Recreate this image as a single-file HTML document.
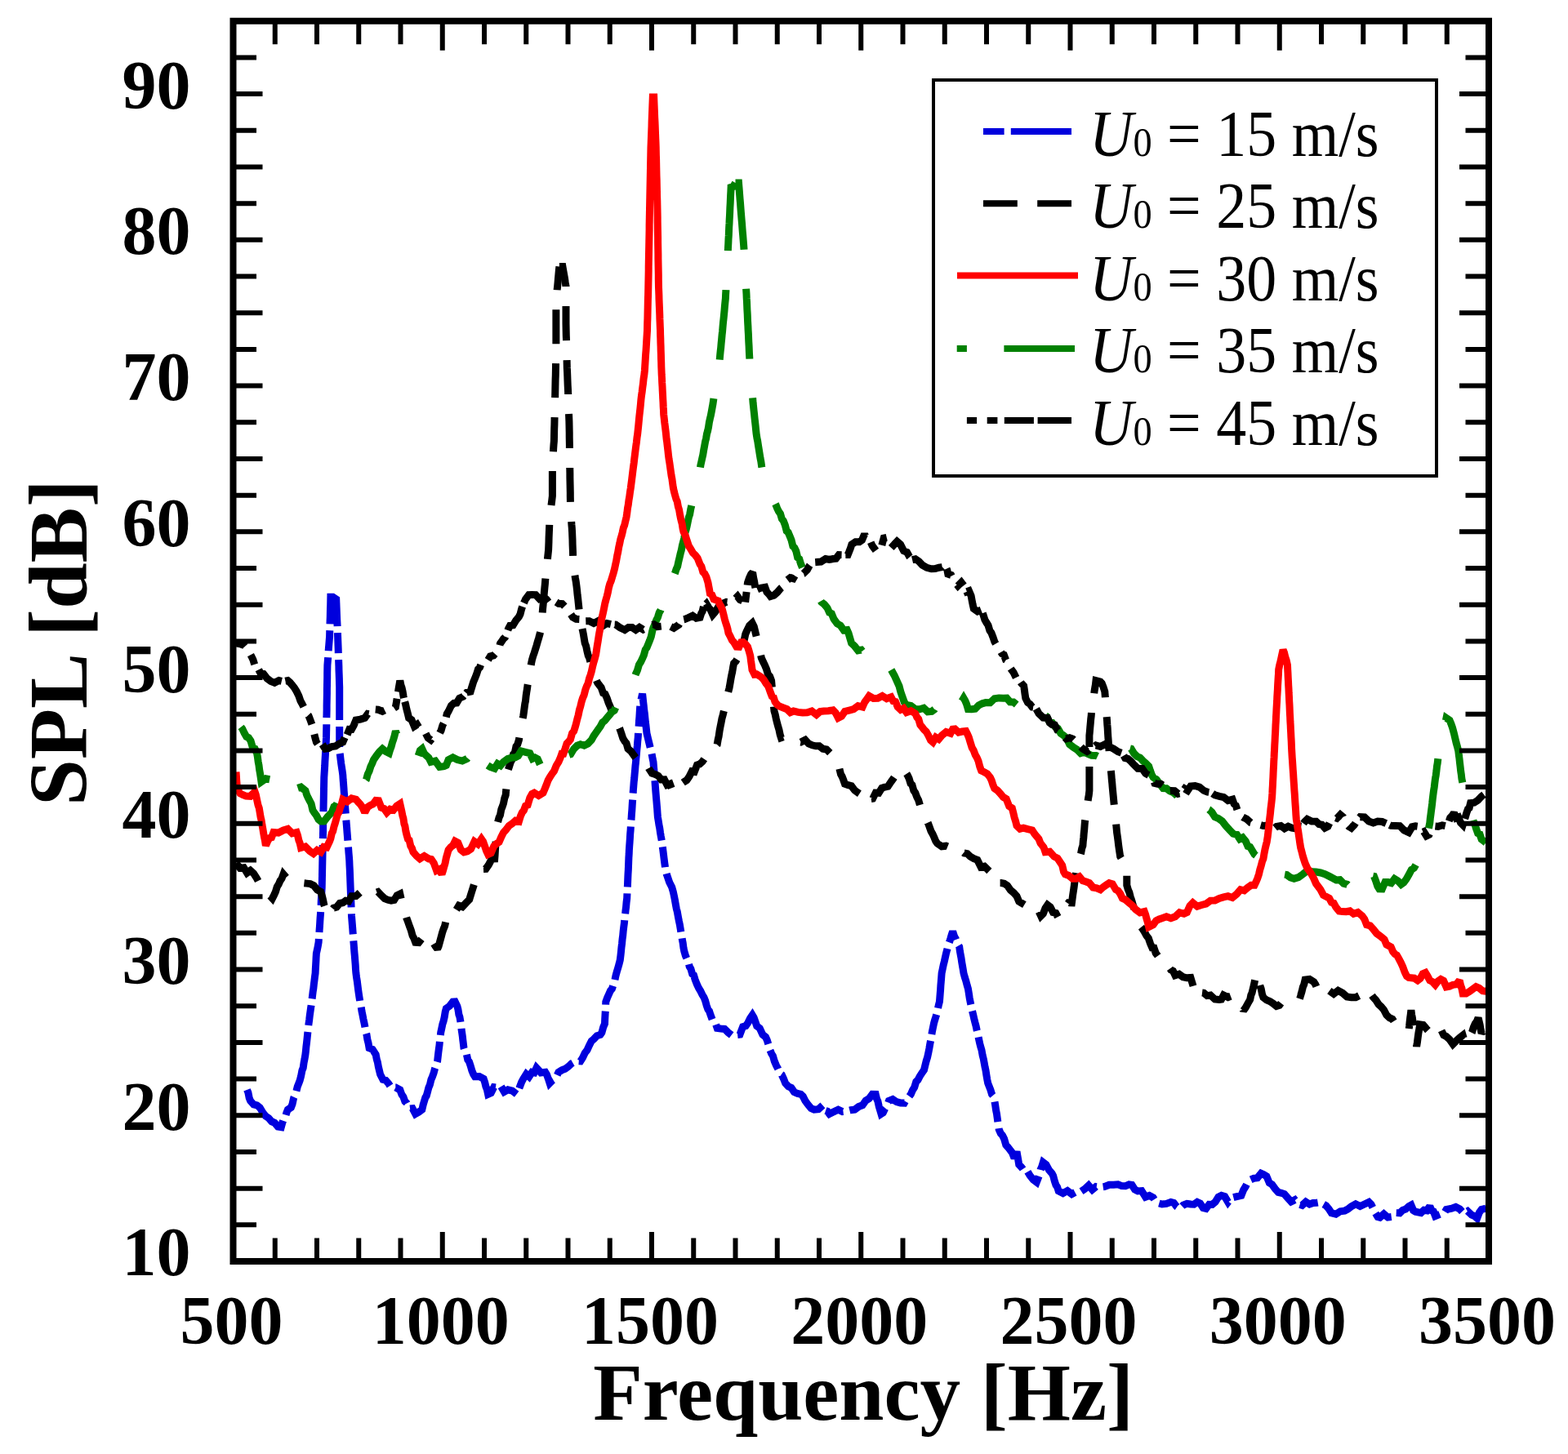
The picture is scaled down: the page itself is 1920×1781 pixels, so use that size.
<!DOCTYPE html>
<html><head><meta charset="utf-8"><title>SPL vs Frequency</title>
<style>html,body{margin:0;padding:0;background:#fff;}body{width:1920px;height:1781px;overflow:hidden;}svg{display:block;}</style>
</head><body>
<svg width="1920" height="1781" viewBox="0 0 1920 1781">
<rect width="100%" height="100%" fill="#fff"/>
<defs><clipPath id="c"><rect x="285.5" y="25.75" width="1537.5" height="1519.25"/></clipPath></defs>
<g clip-path="url(#c)" fill="none" stroke-width="9" stroke-linejoin="miter" stroke-miterlimit="2" stroke-linecap="butt">
<path d="M302.5 1334.9 L303.9 1338.3 L305.2 1344.9 L306.6 1348.4 L310.6 1352.9 L314.6 1353.8 L318.2 1356.7 L321.8 1362.7 L325.4 1367.2 L329.0 1369.6 L332.6 1373.7 L336.2 1375.3 L340.3 1380.0 L344.3 1380.7 L345.9 1374.9 L347.5 1370.4 L349.1 1369.0 L350.8 1363.2 L352.4 1359.2 L356.4 1356.5 L358.0 1352.4 L359.6 1345.0 L361.1 1341.5 L362.7 1337.4 L364.3 1330.9 L365.9 1326.8 L367.2 1323.4 L368.5 1318.5 L369.9 1311.3 L371.2 1308.0 L372.1 1301.7 L373.0 1297.2 L373.9 1291.8 L374.4 1287.6 L374.9 1282.2 L375.5 1277.3 L376.0 1272.8 L376.5 1267.7 L377.0 1263.2 L377.5 1258.7 L378.0 1254.0 L378.7 1249.1 L379.3 1243.8 L380.0 1238.8 L380.7 1233.9 L381.4 1229.3 L382.0 1224.4 L382.6 1219.5 L383.2 1214.5 L383.8 1211.0 L384.3 1206.0 L384.9 1201.5 L385.5 1196.3 L386.1 1192.1 L386.3 1187.5 L386.6 1182.6 L386.9 1177.3 L387.1 1172.6 L387.4 1167.8 L388.3 1163.8 L389.2 1159.3 L390.1 1154.3 L390.4 1149.6 L390.8 1144.2 L391.1 1139.4 L391.5 1134.2 L391.8 1128.9 L392.1 1124.1 L392.5 1119.2 L392.8 1113.9 L393.1 1108.7 L393.3 1103.1 L393.6 1097.8 L393.9 1092.1 L394.2 1087.0 L394.3 1081.9 L394.4 1077.0 L394.5 1072.0 L394.6 1066.9 L394.7 1062.0 L394.8 1057.1 L394.9 1052.1 L395.0 1047.0 L395.1 1042.0 L395.2 1037.0 L395.3 1032.1 L395.4 1027.1 L395.5 1022.1 L395.6 1017.1 L395.6 1012.0 L395.7 1007.0 L395.8 1002.2 L395.9 997.2 L396.0 992.2 L396.1 987.1 L396.2 982.1 L396.3 977.2 L396.4 972.3 L396.5 967.2 L396.6 962.2 L396.7 957.3 L396.8 952.2 L397.1 947.2 L397.4 942.5 L397.7 937.9 L397.9 932.8 L398.2 927.9 L398.5 923.0 L398.7 918.3 L399.0 913.7 L399.3 908.3 L399.5 903.7 L399.6 898.8 L399.7 893.9 L399.8 888.9 L399.8 884.0 L399.9 879.0 L400.0 874.1 L400.1 869.1 L400.1 864.2 L400.2 859.2 L400.3 854.3 L400.4 849.4 L400.4 844.4 L400.5 839.5 L400.6 834.5 L400.7 829.6 L400.7 824.6 L400.8 819.7 L400.9 814.8 L401.3 809.9 L401.7 804.8 L402.0 799.7 L402.4 794.4 L402.8 789.5 L403.2 784.5 L403.6 779.7 L403.7 774.9 L403.9 770.1 L404.0 765.3 L404.1 760.4 L404.3 755.6 L404.4 750.5 L404.5 745.9 L404.7 741.0 L404.8 735.9 L404.9 731.2 L407.6 731.2 L411.7 733.9 L411.9 738.8 L412.1 743.9 L412.3 749.4 L412.5 754.3 L412.7 759.3 L413.0 764.7 L413.2 769.7 L413.4 774.7 L413.6 779.8 L413.8 785.1 L414.0 790.3 L414.2 795.3 L414.3 800.5 L414.5 805.8 L414.7 810.8 L414.9 815.9 L415.0 821.1 L415.2 826.1 L415.4 831.4 L415.5 836.5 L415.7 841.7 L415.7 846.6 L415.7 851.5 L415.7 856.4 L415.7 861.2 L415.7 866.1 L415.7 871.0 L415.7 875.9 L415.7 880.8 L415.7 885.7 L415.7 890.6 L415.7 895.4 L415.7 900.3 L415.7 905.2 L415.7 910.1 L415.7 915.0 L415.7 919.9 L416.4 924.4 L417.1 930.4 L417.7 935.1 L418.4 939.7 L419.1 944.2 L419.8 949.5 L420.1 954.5 L420.5 959.2 L420.9 964.3 L421.2 969.0 L421.6 974.1 L422.0 978.6 L422.3 983.7 L422.7 989.1 L423.1 993.9 L423.4 998.4 L423.8 1003.4 L424.2 1008.8 L424.6 1013.5 L425.0 1019.1 L425.4 1024.1 L425.8 1028.9 L426.2 1033.9 L426.6 1038.9 L427.0 1044.7 L427.4 1049.1 L427.8 1054.6 L428.0 1059.9 L428.3 1065.2 L428.5 1070.2 L428.7 1075.2 L428.9 1080.7 L429.1 1085.9 L429.3 1091.0 L429.5 1096.1 L429.7 1101.2 L429.9 1106.4 L430.1 1111.5 L430.3 1116.9 L430.5 1122.0 L430.9 1126.9 L431.3 1131.8 L431.7 1136.7 L432.1 1142.1 L432.5 1146.8 L432.8 1152.0 L433.2 1156.9 L433.6 1162.3 L434.0 1167.4 L434.4 1171.7 L434.8 1176.8 L435.2 1181.9 L435.5 1187.4 L435.9 1192.1 L436.6 1197.4 L437.3 1201.7 L437.9 1206.5 L438.6 1212.1 L439.3 1217.2 L440.0 1221.7 L441.0 1227.9 L442.0 1232.2 L443.0 1238.6 L444.0 1243.3 L444.9 1248.1 L445.8 1252.2 L446.7 1256.7 L447.8 1263.1 L448.9 1267.0 L449.9 1273.4 L451.0 1277.5 L452.1 1283.7 L456.1 1285.4 L460.2 1291.8 L461.3 1297.6 L462.3 1300.8 L463.4 1306.9 L464.5 1311.4 L465.6 1316.0 L468.9 1322.4 L472.3 1323.2 L475.7 1327.1 L479.0 1332.2 L484.4 1332.1 L489.8 1334.9 L491.9 1340.7 L493.9 1343.5 L495.9 1349.2 L497.9 1351.1 L501.5 1358.1 L505.1 1357.7 L508.7 1364.5 L512.7 1362.2 L516.8 1359.2 L518.1 1353.5 L519.5 1348.8 L520.8 1344.4 L522.2 1342.3 L523.5 1337.6 L524.9 1332.2 L526.4 1328.7 L527.9 1322.4 L529.5 1318.7 L531.0 1314.7 L532.6 1308.7 L534.1 1304.7 L535.6 1299.9 L536.2 1294.5 L536.8 1289.4 L537.4 1284.6 L538.0 1280.3 L538.5 1274.9 L539.1 1270.3 L539.7 1264.8 L540.8 1259.8 L541.9 1254.4 L543.1 1250.7 L544.2 1245.8 L545.3 1239.0 L546.4 1235.2 L550.5 1232.3 L554.5 1227.1 L557.2 1226.9 L559.9 1232.5 L560.9 1236.4 L561.9 1242.8 L562.9 1245.6 L563.9 1251.4 L564.5 1255.6 L565.1 1261.2 L565.7 1265.1 L566.3 1269.3 L566.8 1274.0 L567.4 1278.7 L568.0 1283.7 L569.6 1288.9 L571.2 1290.9 L572.8 1298.1 L574.5 1300.5 L576.1 1305.3 L577.9 1311.6 L579.7 1315.8 L581.5 1318.7 L586.9 1318.6 L592.2 1321.4 L593.6 1325.4 L594.9 1330.8 L596.3 1334.4 L597.6 1340.3 L601.2 1338.7 L604.8 1331.7 L608.4 1332.2 L612.9 1329.7 L617.4 1337.4 L621.9 1334.9 L627.3 1336.2 L632.7 1340.3 L634.7 1336.0 L636.7 1330.7 L638.7 1325.4 L640.8 1321.4 L644.4 1315.7 L647.9 1318.9 L651.5 1313.3 L654.2 1313.9 L656.9 1308.0 L662.3 1313.9 L667.7 1313.3 L669.5 1316.3 L671.3 1321.2 L673.1 1326.8 L676.7 1323.1 L680.3 1321.0 L683.9 1313.3 L687.9 1310.9 L692.0 1309.3 L696.0 1306.4 L700.0 1302.6 L705.4 1299.5 L710.8 1299.9 L713.5 1295.6 L716.2 1289.8 L718.9 1286.4 L721.6 1280.5 L724.3 1275.1 L727.0 1272.9 L731.0 1268.7 L735.1 1267.5 L736.9 1264.9 L738.7 1258.3 L740.5 1254.0 L740.7 1248.7 L741.0 1243.3 L741.3 1238.1 L741.6 1232.4 L741.8 1227.1 L743.7 1222.0 L745.6 1217.7 L747.5 1213.4 L749.4 1211.3 L751.3 1205.5 L752.6 1201.7 L754.0 1195.1 L755.3 1190.3 L756.6 1185.9 L758.0 1181.0 L759.3 1175.9 L759.9 1171.0 L760.5 1165.5 L761.0 1160.2 L761.6 1155.5 L762.1 1150.2 L762.7 1145.8 L763.2 1140.2 L763.8 1135.2 L764.4 1130.8 L764.9 1125.3 L765.5 1120.9 L766.0 1115.5 L766.6 1110.9 L767.1 1105.1 L767.7 1100.4 L767.9 1095.5 L768.1 1090.7 L768.4 1085.4 L768.6 1080.9 L768.8 1075.6 L769.0 1070.9 L769.3 1066.1 L769.5 1061.1 L769.7 1055.9 L769.9 1050.8 L770.2 1046.1 L770.4 1041.1 L770.7 1036.6 L771.1 1031.2 L771.4 1026.8 L771.7 1021.3 L772.1 1017.0 L772.4 1011.5 L772.7 1006.8 L773.1 1002.4 L773.4 997.4 L773.8 992.6 L774.1 987.7 L774.4 982.7 L774.8 977.8 L775.1 972.5 L775.4 967.8 L775.8 963.0 L776.2 957.7 L776.7 953.3 L777.1 948.3 L777.6 943.0 L778.0 937.9 L778.5 933.8 L778.9 928.7 L779.4 923.5 L779.8 918.6 L780.3 913.9 L780.7 908.6 L781.2 903.7 L781.5 898.6 L781.8 893.5 L782.2 888.4 L782.5 883.1 L782.9 878.5 L783.2 873.3 L783.5 868.4 L783.9 863.3 L784.8 857.9 L785.7 854.0 L786.6 849.8 L787.1 854.2 L787.6 859.1 L788.2 864.1 L788.7 869.6 L789.3 873.9 L789.8 878.8 L790.3 883.9 L790.9 888.3 L791.4 892.9 L792.0 898.3 L793.3 903.8 L794.6 909.1 L796.0 914.9 L797.3 919.9 L798.2 924.2 L799.1 929.2 L800.0 933.3 L800.4 938.3 L800.8 942.7 L801.2 947.8 L801.6 952.6 L802.0 957.2 L802.3 962.1 L802.7 967.1 L803.1 972.2 L803.5 977.0 L803.9 981.3 L804.3 986.4 L804.7 990.7 L805.0 995.5 L805.4 1000.7 L806.2 1005.4 L807.0 1010.6 L807.7 1014.0 L808.5 1019.7 L809.3 1024.5 L810.0 1028.1 L810.8 1033.1 L811.4 1037.9 L812.0 1042.8 L812.5 1046.7 L813.1 1051.8 L813.7 1056.5 L814.3 1060.9 L814.9 1065.4 L816.4 1071.1 L818.0 1075.7 L819.6 1080.5 L821.1 1083.6 L822.7 1086.7 L824.3 1092.3 L825.3 1096.9 L826.3 1101.9 L827.3 1107.6 L828.3 1113.1 L829.3 1116.7 L830.4 1123.0 L831.4 1128.2 L832.4 1132.8 L833.1 1137.1 L833.9 1142.0 L834.7 1146.1 L835.5 1151.6 L836.2 1155.1 L837.0 1161.3 L837.8 1165.1 L839.4 1170.6 L841.0 1174.2 L842.6 1177.2 L844.2 1183.9 L845.9 1186.7 L847.7 1193.0 L849.4 1194.2 L851.2 1200.1 L853.4 1205.8 L855.6 1210.4 L857.7 1213.8 L859.9 1218.3 L862.0 1221.7 L863.6 1225.8 L865.3 1231.9 L866.9 1236.4 L868.5 1238.5 L870.1 1243.3 L872.1 1248.7 L874.2 1251.0 L876.2 1253.8 L878.2 1259.4 L882.7 1260.0 L887.2 1260.4 L891.7 1264.8 L897.1 1269.0 L902.5 1267.5 L906.0 1267.1 L909.6 1257.7 L913.2 1256.7 L915.9 1252.8 L918.6 1247.3 L921.3 1243.3 L923.1 1246.3 L924.9 1251.5 L926.7 1256.7 L930.3 1259.6 L933.9 1267.4 L937.5 1270.2 L939.3 1274.0 L941.1 1280.0 L942.9 1286.4 L944.7 1290.6 L946.5 1293.5 L948.3 1299.9 L950.5 1305.0 L952.8 1309.3 L955.0 1314.9 L957.3 1316.5 L959.5 1321.3 L961.7 1326.8 L965.3 1330.7 L968.9 1332.4 L972.5 1337.6 L976.6 1339.5 L980.6 1340.3 L983.3 1342.9 L986.0 1348.4 L989.6 1353.3 L993.2 1357.6 L996.8 1359.2 L1002.2 1358.6 L1007.6 1353.8 L1010.3 1360.3 L1013.0 1361.2 L1015.6 1364.5 L1021.0 1361.8 L1026.4 1359.2 L1031.5 1361.6 L1036.5 1361.0 L1041.6 1359.7 L1046.6 1359.2 L1051.4 1355.6 L1056.1 1353.8 L1060.1 1348.2 L1064.2 1345.7 L1068.2 1340.2 L1072.2 1340.3 L1073.6 1346.0 L1074.9 1348.9 L1076.3 1355.5 L1077.6 1359.8 L1079.0 1364.5 L1081.3 1363.0 L1083.7 1357.8 L1086.1 1354.9 L1088.4 1348.4 L1093.1 1346.5 L1097.8 1349.7 L1102.6 1350.9 L1107.3 1351.1 L1110.0 1346.3 L1112.7 1343.9 L1115.4 1340.3 L1117.5 1335.3 L1119.7 1331.8 L1121.8 1325.0 L1124.0 1322.8 L1126.1 1318.7 L1128.8 1314.4 L1131.5 1310.6 L1132.9 1304.8 L1134.2 1299.6 L1135.6 1295.2 L1136.9 1289.1 L1137.8 1284.5 L1138.7 1279.2 L1139.6 1274.5 L1140.5 1269.1 L1141.4 1263.8 L1142.3 1259.4 L1143.5 1253.6 L1144.6 1249.6 L1145.8 1245.8 L1146.9 1241.9 L1148.1 1237.2 L1149.2 1231.7 L1150.4 1227.1 L1150.8 1222.5 L1151.2 1217.1 L1151.6 1212.4 L1151.9 1207.0 L1152.3 1202.3 L1152.7 1197.5 L1153.1 1192.1 L1154.2 1186.8 L1155.3 1181.6 L1156.3 1177.8 L1157.4 1172.7 L1158.5 1167.8 L1159.8 1162.9 L1161.2 1157.3 L1162.5 1154.0 L1163.9 1149.6 L1165.2 1145.1 L1166.6 1140.9 L1168.6 1147.1 L1170.6 1150.6 L1172.6 1156.0 L1174.7 1159.7 L1175.4 1165.0 L1176.2 1169.4 L1177.0 1173.6 L1177.7 1178.6 L1178.5 1183.1 L1179.3 1187.7 L1180.0 1192.1 L1181.4 1197.2 L1182.7 1201.2 L1184.1 1206.6 L1185.4 1210.9 L1186.3 1216.5 L1187.2 1222.5 L1188.1 1227.1 L1189.3 1232.8 L1190.4 1237.9 L1191.6 1242.7 L1192.8 1247.9 L1193.9 1252.4 L1195.1 1256.8 L1196.2 1262.1 L1197.4 1266.6 L1198.5 1272.6 L1199.7 1278.0 L1200.8 1282.3 L1202.0 1286.3 L1203.2 1293.0 L1204.3 1297.2 L1205.2 1302.1 L1206.1 1307.0 L1207.0 1311.1 L1207.9 1317.0 L1208.8 1322.3 L1209.7 1326.8 L1211.3 1330.8 L1212.9 1334.9 L1214.5 1340.3 L1216.2 1342.3 L1217.8 1348.4 L1218.7 1353.8 L1219.6 1359.9 L1220.5 1364.5 L1221.2 1369.5 L1221.8 1373.8 L1222.5 1379.0 L1223.2 1383.4 L1225.3 1388.2 L1227.5 1390.7 L1229.6 1395.0 L1231.8 1402.5 L1234.0 1405.0 L1236.6 1408.2 L1239.3 1411.7 L1242.0 1418.5 L1243.5 1415.6 L1245.0 1410.4 L1245.9 1415.8 L1246.8 1420.9 L1247.7 1426.5 L1251.1 1430.0 L1254.4 1434.9 L1257.8 1434.3 L1261.2 1440.0 L1265.2 1445.1 L1269.3 1448.1 L1270.9 1444.0 L1272.5 1439.4 L1274.1 1432.8 L1275.7 1429.1 L1277.3 1423.8 L1280.9 1426.6 L1284.5 1433.2 L1288.1 1437.3 L1289.7 1440.4 L1291.4 1447.0 L1293.0 1451.6 L1294.6 1453.9 L1296.2 1458.9 L1301.6 1461.6 L1307.0 1458.6 L1312.4 1462.7 L1317.8 1459.8 L1323.2 1459.7 L1328.5 1456.2 L1333.0 1452.0 L1337.5 1457.2 L1342.0 1453.5 L1347.4 1454.3 L1352.8 1453.5 L1358.2 1451.3 L1363.6 1451.2 L1369.0 1450.8 L1373.5 1452.6 L1378.0 1452.8 L1382.5 1450.8 L1386.0 1451.3 L1389.6 1457.1 L1393.2 1458.9 L1397.9 1458.6 L1402.7 1466.2 L1407.4 1464.5 L1412.1 1467.0 L1415.7 1472.6 L1419.3 1474.0 L1422.9 1475.0 L1428.3 1474.4 L1433.7 1472.4 L1437.3 1473.4 L1440.8 1477.9 L1444.4 1480.4 L1448.9 1476.1 L1453.4 1474.3 L1457.9 1475.0 L1462.0 1475.2 L1466.0 1472.4 L1469.6 1474.1 L1473.2 1479.5 L1476.8 1480.4 L1480.6 1475.4 L1484.3 1475.5 L1488.1 1472.3 L1491.9 1466.1 L1495.6 1464.3 L1499.7 1465.6 L1503.7 1472.4 L1506.4 1468.9 L1509.1 1467.0 L1514.5 1465.6 L1519.9 1464.3 L1522.6 1457.5 L1525.3 1453.2 L1528.0 1447.8 L1530.7 1445.4 L1535.2 1443.4 L1539.7 1442.7 L1544.2 1437.3 L1547.5 1438.7 L1550.9 1440.8 L1554.3 1448.9 L1557.6 1450.8 L1561.4 1456.2 L1565.2 1460.5 L1569.0 1461.3 L1572.7 1462.6 L1576.5 1467.0 L1581.0 1472.0 L1585.5 1469.7 L1590.0 1475.0 L1594.5 1476.4 L1599.0 1472.2 L1603.5 1475.0 L1607.9 1473.4 L1612.4 1473.2 L1616.9 1472.4 L1620.3 1474.9 L1623.7 1476.8 L1627.0 1480.6 L1630.4 1485.8 L1635.8 1487.2 L1641.2 1483.8 L1646.6 1483.1 L1650.6 1481.0 L1654.7 1477.7 L1660.0 1474.8 L1665.4 1477.5 L1670.8 1475.0 L1676.2 1472.4 L1678.9 1475.1 L1681.6 1480.5 L1684.3 1486.2 L1687.0 1490.5 L1689.7 1491.2 L1694.5 1487.0 L1699.4 1491.1 L1704.2 1490.5 L1709.1 1485.6 L1714.0 1485.8 L1717.6 1482.3 L1721.3 1481.0 L1725.0 1477.7 L1727.9 1476.1 L1730.6 1482.6 L1733.2 1484.2 L1740.0 1485.6 L1743.6 1482.2 L1747.2 1482.8 L1750.8 1477.5 L1753.0 1482.8 L1755.3 1483.8 L1757.5 1489.6 L1764.2 1486.9 L1767.6 1487.1 L1771.0 1481.5 L1777.7 1480.2 L1782.6 1478.4 L1787.4 1480.9 L1792.3 1486.2 L1797.1 1483.5 L1802.0 1488.2 L1805.4 1489.4 L1808.7 1492.3 L1811.4 1485.2 L1814.1 1481.5 L1819.5 1480.2" stroke="#0000dd" stroke-dasharray="74 8 25 8"/>
<path d="M684.9 326.4 L684.4 331.1 L684.0 335.5 L683.5 340.9 L683.1 345.9 L682.7 350.2 L682.2 354.7 L681.8 360.1 L681.3 364.3 L680.9 369.5 L680.9 374.5 L680.9 379.5 L680.9 384.4 L680.9 389.4 L680.9 394.4 L680.9 399.4 L680.9 404.3 L680.9 409.3 L680.9 414.3 L680.9 419.3 L680.9 424.2 L680.9 429.2 L680.9 434.2 L680.7 439.1 L680.6 444.3 L680.5 449.3 L680.4 454.4 L680.3 459.5 L680.1 464.6 L680.0 469.6 L679.9 474.5 L679.8 479.7 L679.7 484.6 L679.6 489.7 L679.4 494.8 L679.3 499.8 L679.2 504.8 L679.1 509.8 L679.0 514.9 L678.9 520.0 L678.7 525.1 L678.6 530.0 L678.5 535.1 L678.4 540.2 L678.0 544.6 L677.7 549.3 L677.4 554.4 L677.0 559.0 L676.7 563.6 L676.4 568.5 L676.4 573.4 L676.4 578.3 L676.4 583.2 L676.4 588.1 L676.4 592.9 L676.4 597.8 L676.4 602.7 L676.4 607.6 L675.7 613.6 L675.0 618.9 L674.3 624.4 L673.7 629.2 L673.0 634.6 L672.8 639.5 L672.7 644.2 L672.5 649.1 L672.3 653.9 L672.1 658.8 L672.0 663.7 L671.8 668.8 L671.6 673.6 L671.1 678.3 L670.5 683.9 L670.0 689.3 L669.4 694.0 L668.8 700.0 L668.3 704.6 L667.8 709.5 L667.4 715.0 L666.9 720.0 L666.4 725.3 L666.0 730.1 L665.5 735.9 L665.1 740.7 L664.6 745.5 L664.2 750.8 L663.7 756.3 L663.2 761.1 L662.8 766.5 L662.3 771.6 L661.0 776.8 L659.6 781.8 L658.3 786.0 L656.9 791.0 L655.6 795.1 L654.2 799.7 L652.9 803.3 L651.5 808.0 L650.6 812.3 L649.7 818.1 L648.8 822.8 L647.9 829.1 L647.0 834.1 L646.1 839.0 L645.5 843.5 L644.8 847.8 L644.1 852.6 L643.5 858.6 L642.8 861.9 L642.1 867.1 L641.4 872.3 L640.8 876.7 L639.9 881.1 L639.0 886.0 L638.1 892.2 L637.2 896.0 L636.3 900.6 L635.4 906.4 L633.7 911.9 L632.0 914.1 L630.3 922.1 L628.6 923.8 L626.9 930.6 L625.3 933.5 L623.6 938.9 L621.9 944.1 L621.4 948.6 L621.0 954.2 L620.5 958.9 L620.1 964.2 L619.6 968.6 L619.2 973.8 L617.8 977.7 L616.5 984.2 L615.2 988.0 L613.8 991.5 L612.5 998.4 L611.1 1001.3 L609.8 1006.1 L608.4 1011.5 L608.1 1016.7 L607.7 1021.3 L607.4 1026.8 L607.1 1031.5 L606.7 1037.1 L606.4 1042.0 L606.1 1047.1 L605.7 1051.9 L602.1 1052.1 L598.5 1059.1 L594.9 1064.4 L591.3 1064.6 L587.8 1065.6 L584.2 1070.8 L582.6 1075.4 L581.0 1081.4 L579.4 1086.7 L577.9 1091.5 L576.3 1096.6 L574.7 1101.8 L570.5 1106.1 L566.2 1110.8 L561.9 1109.2 L557.7 1116.3 L553.4 1114.8 L549.1 1119.3 L547.6 1125.4 L546.1 1127.8 L544.6 1134.3 L543.1 1137.9 L541.6 1142.4 L540.1 1148.0 L538.6 1153.5 L537.1 1158.9 L535.6 1162.4 L533.0 1158.8 L530.3 1154.1 L527.6 1152.6 L524.9 1146.2 L520.8 1150.9 L516.8 1149.3 L512.7 1154.6 L508.7 1154.3 L506.9 1149.4 L505.1 1146.0 L503.3 1139.5 L501.5 1134.7 L499.7 1129.5 L497.9 1124.7 L496.6 1120.3 L495.2 1115.5 L493.9 1108.9 L492.5 1106.2 L491.2 1101.3 L489.8 1095.0 L486.2 1096.7 L482.6 1102.5 L479.0 1103.1 L475.0 1102.3 L471.0 1100.6 L466.9 1096.7 L462.9 1092.4 L457.5 1094.4 L452.1 1092.4 L446.7 1096.5 L441.3 1092.8 L435.9 1097.6 L430.5 1097.7 L426.9 1103.9 L423.3 1103.2 L419.8 1105.8 L416.0 1106.5 L412.2 1111.1 L408.4 1112.2 L404.7 1116.9 L400.9 1122.0 L399.5 1117.2 L398.2 1112.2 L396.8 1108.3 L395.5 1101.9 L394.2 1096.8 L392.8 1092.4 L388.5 1090.0 L384.2 1084.7 L379.9 1082.6 L375.6 1082.1 L371.2 1081.6 L366.4 1079.0 L361.5 1077.6 L356.7 1078.3 L351.8 1076.4 L347.0 1070.8 L345.1 1076.0 L343.1 1078.8 L341.2 1083.2 L339.3 1086.2 L337.4 1092.3 L335.4 1096.7 L333.5 1100.4 L330.4 1097.1 L327.2 1091.1 L324.1 1089.4 L320.9 1085.8 L317.8 1082.4 L314.6 1076.2 L310.6 1069.9 L306.6 1066.3 L302.5 1069.2 L298.5 1062.7 L293.8 1063.2 L289.0 1057.3" stroke="#000" stroke-dasharray="42 24" stroke-dashoffset="13"/>
<path d="M684.9 326.4 L688.9 326.4 L689.7 331.1 L690.6 336.1 L691.4 340.4 L692.2 345.9 L693.0 350.6 L693.0 355.7 L693.0 360.8 L693.0 365.9 L693.0 371.0 L693.0 376.1 L693.0 381.2 L693.0 386.3 L693.0 391.4 L693.0 396.5 L693.1 401.3 L693.2 406.3 L693.3 411.2 L693.5 416.0 L693.6 420.9 L693.7 425.8 L693.8 430.7 L694.0 435.8 L694.1 440.6 L694.2 445.6 L694.3 450.4 L694.6 455.8 L694.8 460.9 L695.0 466.6 L695.2 472.0 L695.5 477.4 L695.7 482.7 L695.8 487.4 L696.0 492.1 L696.2 496.8 L696.4 501.7 L696.5 506.2 L696.7 511.0 L696.9 515.7 L697.0 520.4 L697.1 525.4 L697.2 530.4 L697.2 535.3 L697.3 540.3 L697.4 545.1 L697.4 550.1 L697.5 555.0 L697.6 559.9 L697.6 564.9 L697.7 569.9 L697.8 574.9 L697.9 579.8 L697.9 584.7 L698.0 589.5 L698.1 594.0 L698.2 598.8 L698.3 603.7 L698.3 608.2 L698.4 613.0 L698.5 617.6 L698.6 622.4 L698.9 627.1 L699.3 632.6 L699.6 637.6 L699.9 642.3 L700.3 646.9 L700.6 652.1 L700.8 656.9 L701.0 661.7 L701.1 666.8 L701.3 671.7 L701.5 676.5 L701.6 681.4 L701.8 686.1 L702.0 691.2 L702.8 696.6 L703.6 702.6 L704.4 707.7 L705.2 712.1 L706.0 718.1 L706.6 723.3 L707.1 728.7 L707.7 733.3 L708.3 739.2 L708.8 743.9 L709.4 749.1 L710.2 754.3 L711.1 758.6 L711.9 764.5 L712.8 769.0 L713.7 773.4 L714.5 777.5 L715.4 782.9 L716.2 787.8 L717.6 791.2 L718.9 797.5 L720.3 803.1 L721.6 805.7 L723.0 811.4 L724.3 816.1 L725.7 820.5 L727.0 825.5 L729.3 830.8 L731.6 836.2 L733.9 839.3 L736.2 842.3 L738.6 849.0 L740.9 850.1 L743.2 855.2 L745.1 860.8 L747.0 865.1 L748.9 870.1 L750.9 875.1 L752.8 877.2 L754.7 883.4 L756.6 887.5 L758.7 892.1 L760.8 898.1 L762.8 904.3 L764.9 907.8 L767.0 910.3 L769.0 917.2 L772.7 920.4 L776.4 925.6 L780.0 930.2 L783.7 932.1 L787.3 936.7 L791.0 934.6 L794.6 941.4 L798.4 947.2 L802.2 948.4 L806.0 950.3 L809.7 955.0 L813.5 954.9 L816.9 961.5 L820.3 960.3 L823.6 969.2 L827.0 971.1 L830.6 968.3 L834.2 960.1 L837.8 957.6 L840.9 955.7 L844.1 951.0 L847.2 944.7 L850.3 945.3 L853.5 937.1 L856.6 936.0 L860.2 932.8 L863.8 927.5 L867.4 922.2 L871.0 920.3 L874.6 915.6 L878.2 911.8 L879.2 905.9 L880.1 902.1 L881.1 895.1 L882.1 889.7 L883.0 885.3 L884.0 880.0 L885.1 876.2 L886.3 871.1 L887.4 866.7 L888.5 861.4 L889.6 857.2 L890.7 851.7 L891.9 846.9 L893.0 842.8 L893.9 837.8 L894.9 831.8 L895.8 826.9 L896.7 823.1 L897.7 816.9 L898.6 812.5 L900.9 810.1 L903.1 806.6 L905.3 801.3 L906.8 796.3 L908.3 792.5 L909.8 788.2 L911.3 783.7 L912.8 776.7 L914.3 773.2 L917.7 766.2 L921.1 763.1 L923.3 767.6 L924.4 772.1 L925.6 777.1 L926.7 781.4 L927.8 785.5 L928.9 791.6 L930.1 797.3 L931.2 800.7 L932.3 805.8 L934.4 810.6 L936.4 814.6 L938.5 819.6 L940.5 826.1 L942.6 828.4 L944.6 833.8 L945.1 839.3 L945.6 844.4 L946.1 849.8 L946.6 855.4 L947.1 859.9 L947.5 865.9 L948.0 870.9 L949.2 875.1 L950.4 880.7 L951.6 885.7 L952.8 890.0 L954.0 894.0 L955.2 899.9 L956.4 903.7 L961.2 901.9 L966.1 906.8 L970.9 906.2 L975.8 908.2 L980.6 909.1 L986.0 906.4 L990.3 911.0 L994.6 912.8 L998.9 913.8 L1003.2 913.7 L1007.6 917.2 L1012.1 918.0 L1016.5 922.3 L1021.0 925.3 L1022.7 928.6 L1024.4 933.2 L1026.1 940.1 L1027.8 941.3 L1029.5 948.4 L1031.1 951.1 L1032.8 955.4 L1034.5 960.3 L1038.6 961.7 L1042.6 962.7 L1046.6 968.1 L1050.7 971.1 L1054.3 973.4 L1057.9 979.7 L1061.5 984.5 L1065.1 978.7 L1068.7 978.2 L1072.2 971.1 L1076.0 971.3 L1079.8 965.3 L1083.6 964.0 L1087.3 963.3 L1091.1 957.6 L1094.3 953.1 L1097.6 948.3 L1100.8 946.1 L1104.0 942.5 L1107.3 941.4 L1109.2 946.4 L1111.1 949.3 L1113.1 953.5 L1115.0 959.7 L1116.9 961.4 L1118.8 968.2 L1120.8 971.1 L1122.7 976.2 L1124.6 979.9 L1126.5 986.2 L1128.5 988.9 L1130.4 995.7 L1132.3 1000.5 L1134.2 1003.4 L1136.2 1007.7 L1138.1 1012.7 L1140.0 1018.1 L1141.9 1021.4 L1143.9 1025.7 L1145.8 1030.4 L1147.7 1033.1 L1153.1 1036.8 L1158.5 1036.2 L1163.9 1038.4 L1169.3 1035.8 L1173.0 1037.0 L1176.8 1042.0 L1180.6 1045.0 L1184.4 1045.6 L1188.1 1049.2 L1192.4 1051.7 L1196.8 1053.4 L1201.1 1062.1 L1205.4 1061.1 L1209.7 1065.4 L1212.9 1068.5 L1216.2 1074.6 L1219.4 1072.9 L1222.6 1081.6 L1225.9 1081.6 L1229.7 1082.2 L1233.5 1084.7 L1237.3 1090.2 L1241.2 1093.5 L1245.0 1097.7 L1247.7 1104.2 L1250.4 1105.8 L1254.9 1108.5 L1259.4 1107.7 L1263.9 1105.8 L1266.6 1109.5 L1269.3 1114.2 L1272.0 1116.4 L1274.6 1122.0 L1277.3 1119.3 L1280.0 1112.4 L1282.7 1108.5 L1286.1 1111.1 L1289.5 1117.5 L1292.8 1118.3 L1296.2 1124.7 L1298.9 1119.2 L1301.6 1118.0 L1304.3 1111.2 L1308.3 1105.7 L1312.4 1105.8 L1313.1 1100.6 L1313.7 1096.0 L1314.4 1091.3 L1315.1 1086.8 L1315.7 1081.9 L1316.4 1077.3 L1317.1 1072.4 L1317.8 1068.1 L1318.9 1062.8 L1320.1 1059.1 L1321.2 1053.8 L1322.4 1049.3 L1323.5 1045.7 L1324.7 1039.3 L1325.9 1035.8 L1326.3 1030.5 L1326.8 1026.2 L1327.2 1020.9 L1327.7 1016.3 L1328.1 1010.7 L1328.5 1006.1 L1329.2 1001.4 L1329.9 997.2 L1330.6 991.7 L1331.2 987.6 L1331.9 982.7 L1332.6 977.7 L1333.3 973.8 L1333.9 968.4 L1333.9 963.2 L1333.9 958.0 L1333.9 952.8 L1333.9 947.6 L1333.9 942.5 L1333.9 937.3 L1333.9 932.1 L1333.9 926.9 L1333.9 921.7 L1333.9 916.5 L1333.9 911.4 L1333.9 906.2 L1333.9 901.0 L1334.4 896.0 L1334.8 891.1 L1335.3 885.7 L1335.7 880.9 L1336.2 876.8 L1336.6 871.4 L1337.3 866.1 L1338.0 862.6 L1338.7 857.5 L1339.3 853.1 L1340.0 847.1 L1340.7 842.8 L1341.4 838.8 L1342.0 833.6 L1347.4 835.0 L1349.2 836.9 L1351.0 841.4 L1352.8 847.1 L1353.2 852.0 L1353.6 856.8 L1354.0 861.8 L1354.3 867.3 L1354.7 871.8 L1355.1 877.5 L1355.5 882.1 L1355.8 887.3 L1356.2 891.9 L1356.5 897.6 L1356.8 902.2 L1357.2 907.4 L1357.5 912.5 L1357.9 917.3 L1358.2 922.6 L1358.7 928.0 L1359.3 932.9 L1359.8 938.4 L1360.4 944.6 L1360.9 949.5 L1361.3 954.8 L1361.8 959.4 L1362.2 964.5 L1362.7 969.6 L1363.1 973.9 L1363.6 979.2 L1364.1 984.2 L1364.6 988.9 L1365.1 993.9 L1365.6 999.0 L1366.1 1004.1 L1366.6 1009.0 L1367.1 1014.2 L1367.6 1019.6 L1368.3 1024.4 L1369.0 1029.6 L1369.6 1034.9 L1370.3 1039.9 L1371.0 1044.6 L1371.7 1049.2 L1374.4 1053.8 L1377.1 1060.5 L1379.8 1062.7 L1379.8 1068.1 L1379.8 1073.5 L1379.8 1078.9 L1379.8 1084.3 L1381.3 1089.5 L1382.8 1092.9 L1384.2 1098.3 L1385.7 1102.8 L1387.2 1108.0 L1388.7 1112.8 L1390.2 1117.5 L1391.7 1123.5 L1393.2 1127.4 L1395.9 1133.7 L1398.6 1137.1 L1401.3 1141.4 L1404.0 1146.3 L1406.3 1149.2 L1408.5 1155.7 L1410.8 1160.9 L1413.0 1161.0 L1415.2 1167.5 L1417.5 1170.5 L1420.9 1175.3 L1424.2 1178.3 L1427.6 1177.3 L1431.0 1184.0 L1433.7 1187.9 L1436.4 1189.3 L1439.0 1194.8 L1443.8 1193.3 L1448.5 1196.7 L1453.2 1197.8 L1457.9 1197.5 L1459.5 1202.7 L1461.1 1208.0 L1462.8 1212.7 L1464.4 1216.8 L1466.0 1221.7 L1470.0 1215.8 L1474.1 1216.3 L1478.1 1219.6 L1482.2 1219.0 L1487.6 1224.0 L1493.0 1224.4 L1495.6 1224.1 L1498.3 1219.0 L1503.7 1221.5 L1509.1 1219.4 L1514.5 1224.4 L1517.2 1227.3 L1519.9 1231.3 L1522.6 1237.9 L1525.3 1234.1 L1528.0 1229.1 L1530.7 1224.4 L1531.8 1219.0 L1533.0 1216.3 L1534.1 1211.8 L1535.3 1206.9 L1536.5 1201.2 L1537.6 1196.2 L1538.8 1192.1 L1540.1 1196.2 L1541.5 1202.8 L1542.8 1207.4 L1544.2 1211.2 L1545.5 1217.9 L1546.9 1221.7 L1550.9 1224.9 L1554.9 1226.5 L1559.0 1229.2 L1563.0 1232.5 L1566.6 1231.3 L1570.2 1226.8 L1573.8 1224.4 L1579.2 1224.2 L1584.6 1221.7 L1588.6 1217.7 L1592.7 1219.0 L1594.0 1214.9 L1595.4 1208.9 L1596.7 1206.0 L1598.1 1200.1 L1603.5 1199.5 L1608.8 1202.8 L1610.9 1206.1 L1612.9 1211.1 L1614.9 1214.5 L1616.9 1219.0 L1622.3 1216.5 L1627.7 1213.6 L1633.1 1217.5 L1638.5 1213.3 L1643.9 1216.3 L1649.3 1220.9 L1654.7 1221.7 L1660.0 1221.7 L1665.4 1219.0 L1669.5 1217.0 L1673.5 1210.9 L1676.2 1214.2 L1678.9 1217.8 L1681.6 1221.7 L1684.8 1225.0 L1688.1 1230.2 L1691.3 1233.1 L1694.5 1237.0 L1697.8 1243.3 L1701.4 1246.7 L1705.0 1248.3 L1708.6 1254.0 L1714.0 1256.5 L1719.3 1259.4 L1725.0 1262.1 L1725.6 1257.2 L1726.1 1252.0 L1726.7 1246.8 L1727.3 1242.4 L1727.9 1237.3 L1728.6 1242.8 L1729.4 1246.7 L1730.1 1252.3 L1730.9 1257.3 L1731.6 1262.6 L1732.3 1267.2 L1733.1 1271.5 L1733.8 1276.3 L1734.6 1281.7 L1735.4 1276.9 L1736.2 1270.6 L1737.0 1264.8 L1737.8 1260.7 L1738.6 1254.8 L1742.7 1255.4 L1746.7 1260.2 L1749.4 1263.1 L1752.1 1268.2 L1756.8 1262.9 L1761.5 1260.2 L1764.7 1261.6 L1767.8 1268.0 L1771.0 1269.6 L1775.0 1273.2 L1779.1 1279.0 L1783.1 1275.0 L1787.2 1271.3 L1791.2 1268.2 L1793.2 1274.9 L1795.2 1279.0 L1797.9 1271.4 L1800.6 1268.2 L1802.5 1264.3 L1804.4 1258.1 L1806.3 1253.8 L1808.2 1251.4 L1810.1 1246.7 L1811.1 1251.1 L1812.1 1255.2 L1813.1 1261.0 L1814.1 1265.6 L1815.9 1263.3 L1817.7 1258.1 L1819.5 1253.4" stroke="#000" stroke-dasharray="42 24" stroke-dashoffset="13"/>
<path d="M900.5 224.0 L897.8 228.6 L895.1 229.4 L894.9 234.3 L894.6 239.4 L894.4 244.0 L894.2 248.9 L893.9 254.0 L893.7 259.1 L893.5 263.7 L893.2 268.7 L893.0 273.7 L892.7 278.4 L892.5 283.3 L892.3 288.5 L892.0 293.0 L891.8 298.2 L891.5 303.3 L891.3 308.2 L891.1 312.9 L890.8 317.9 L890.6 322.6 L890.3 327.5 L890.1 331.8 L889.8 337.0 L889.6 341.5 L889.4 346.4 L889.1 350.9 L888.9 355.8 L888.6 360.6 L888.4 365.5 L887.9 370.3 L887.4 375.5 L887.0 380.6 L886.5 385.8 L886.0 390.7 L885.5 395.2 L885.0 400.9 L884.6 405.9 L884.1 410.3 L883.6 415.9 L883.1 420.8 L882.7 425.8 L882.2 429.9 L881.7 435.0 L881.2 440.8 L880.8 445.3 L880.3 450.4 L879.5 455.1 L878.7 459.9 L877.9 464.7 L877.1 469.4 L876.3 475.1 L875.4 479.1 L874.6 483.7 L873.8 488.9 L873.0 494.6 L872.2 498.9 L871.3 503.9 L870.3 509.1 L869.4 512.7 L868.4 517.3 L867.5 523.4 L866.5 528.1 L865.5 531.6 L864.6 537.1 L863.6 541.0 L862.7 546.0 L861.7 551.3 L860.8 556.9 L859.8 561.2 L858.9 565.4 L857.9 569.8 L857.0 576.0 L856.0 580.0 L854.9 584.8 L853.7 590.7 L852.6 594.4 L851.5 599.3 L850.3 603.7 L849.2 610.1 L848.0 614.4 L846.9 618.7 L845.7 623.8 L844.6 630.1 L843.4 633.6 L842.3 638.8 L841.1 644.7 L840.0 649.2 L838.8 652.9 L837.7 659.6 L836.6 663.6 L835.4 668.3 L834.3 674.0 L833.1 678.4 L832.0 683.2 L830.8 688.2 L829.7 693.5 L828.1 697.1 L826.4 702.4 L824.8 706.3 L823.2 709.8 L821.6 715.0 L819.8 721.3 L818.0 724.7 L816.2 726.8 L814.4 731.1 L812.6 738.4 L810.8 742.0 L809.0 747.3 L807.2 750.4 L805.4 756.2 L803.6 759.8 L801.8 764.9 L800.0 768.9 L798.7 773.2 L797.3 779.7 L795.5 784.7 L793.7 789.2 L792.0 793.2 L790.2 795.8 L788.4 802.5 L786.6 806.7 L784.5 811.0 L782.5 814.1 L780.5 821.0 L778.5 825.5 L776.9 829.9 L775.2 835.9 L773.6 837.7 L772.0 841.8 L770.4 847.1 L766.6 852.7 L762.8 854.7 L759.1 859.3 L755.3 863.3 L752.3 870.1 L749.2 872.1 L746.2 875.8 L743.2 879.4 L740.5 882.8 L737.8 884.8 L735.1 889.9 L732.4 893.6 L729.7 897.5 L727.0 901.4 L724.3 906.4 L719.8 911.0 L715.3 913.2 L710.8 911.8 L706.8 913.2 L702.7 917.2 L698.7 923.8 L694.7 925.3 L690.6 924.1 L686.6 926.9 L682.5 932.1 L678.5 933.3 L674.9 935.8 L671.3 937.5 L667.7 942.8 L664.6 936.1 L661.4 936.7 L658.3 929.7 L655.1 928.0 L652.0 929.4 L648.8 922.6 L643.5 921.3 L638.1 919.9 L634.5 925.9 L630.9 927.9 L627.3 928.0 L621.9 929.5 L616.5 933.3 L612.9 937.6 L609.3 935.5 L605.7 941.4 L600.3 939.5 L594.9 936.0 L593.6 929.5 L592.2 926.2 L590.9 920.6 L589.5 914.5 L585.5 915.7 L581.5 919.9 L578.3 920.6 L575.2 925.5 L572.0 929.3 L566.0 932.1 L559.9 930.6 L554.5 927.8 L549.1 930.6 L546.4 937.5 L543.7 938.7 L538.3 939.4 L533.0 932.1 L527.6 933.3 L524.9 928.0 L522.2 925.7 L519.5 923.1 L516.8 917.2 L514.4 919.2 L512.1 925.8 L509.7 928.7 L507.3 932.0 L504.3 930.0 L501.3 926.0 L498.3 921.0 L495.2 914.5 L492.5 908.0 L489.8 905.9 L487.1 902.9 L484.4 895.6 L483.1 901.2 L481.7 905.9 L480.4 909.6 L479.0 914.8 L477.7 918.3 L476.4 922.6 L472.3 920.5 L468.3 917.2 L464.7 920.7 L461.1 925.4 L457.5 930.6 L455.7 935.2 L453.9 938.9 L452.1 944.6 L450.3 948.4 L448.5 954.9 L446.7 957.6 L442.7 958.3 L438.6 960.4 L434.6 962.9 L430.5 968.4 L426.0 973.7 L421.6 976.8 L417.1 976.5 L414.4 980.2 L411.7 986.3 L409.0 988.0 L406.3 995.1 L403.6 997.9 L400.9 1000.7 L396.8 1006.1 L392.8 1006.1 L390.1 1003.9 L387.4 998.8 L384.7 995.3 L382.9 992.3 L381.1 984.5 L379.3 981.1 L377.5 977.7 L375.7 973.9 L373.9 968.4 L368.5 964.0 L363.2 965.7 L357.8 964.9 L352.4 961.6 L349.0 959.2 L345.6 953.7 L342.3 952.0 L338.9 945.5 L334.9 951.1 L330.8 954.9 L325.4 953.8 L320.0 957.6 L319.3 952.8 L318.5 947.5 L317.7 943.1 L317.0 937.5 L316.2 933.4 L315.4 927.1 L314.6 922.6 L312.1 917.1 L309.5 916.1 L307.0 907.4 L304.4 903.5 L301.8 902.4 L299.3 898.1 L296.7 892.6 L294.2 889.4 L291.6 883.5 L289.0 880.8" stroke="#008000" stroke-dasharray="86 48"/>
<path d="M900.5 224.0 L904.5 224.0 L904.9 228.8 L905.3 233.7 L905.7 239.0 L906.1 244.2 L906.5 248.7 L906.9 254.2 L907.3 259.3 L907.7 264.2 L908.1 269.2 L908.5 273.5 L908.9 279.0 L909.3 284.2 L909.7 288.5 L910.1 293.7 L910.5 298.7 L910.9 303.9 L911.3 308.9 L911.6 314.0 L911.8 319.1 L912.1 324.4 L912.4 329.1 L912.6 334.2 L912.9 339.4 L913.2 344.5 L913.4 349.6 L913.7 355.2 L914.0 360.1 L914.2 365.2 L914.5 369.7 L914.7 374.8 L914.9 379.6 L915.2 384.6 L915.4 389.5 L915.6 394.6 L915.9 399.4 L916.1 404.2 L916.4 409.1 L916.6 414.1 L916.8 418.9 L917.1 424.0 L917.3 429.0 L917.5 433.7 L917.8 438.5 L918.0 443.6 L918.4 448.3 L918.8 453.5 L919.2 458.7 L919.6 463.8 L920.0 468.5 L920.5 473.8 L920.9 478.6 L921.3 483.5 L921.7 488.4 L922.1 493.5 L922.6 498.2 L923.1 503.1 L923.6 507.5 L924.1 512.6 L924.6 517.0 L925.1 521.5 L925.6 526.5 L926.1 531.2 L926.9 536.4 L927.7 540.2 L928.5 545.7 L929.3 550.6 L930.2 556.3 L931.0 561.2 L931.8 565.2 L932.6 570.9 L933.4 575.6 L934.2 580.0 L936.1 583.7 L938.1 589.1 L940.0 592.3 L941.9 599.7 L943.9 603.7 L945.8 609.3 L947.7 613.5 L949.7 617.6 L951.6 622.5 L953.5 626.4 L955.5 629.2 L957.4 635.7 L959.3 638.0 L961.3 643.2 L963.2 650.4 L965.1 652.0 L967.1 656.8 L969.0 661.5 L970.9 669.2 L972.9 671.0 L974.8 675.0 L976.7 682.9 L978.7 684.6 L980.6 690.8 L983.3 697.3 L986.0 701.1 L988.7 706.7 L991.4 709.6 L993.5 716.1 L995.7 718.6 L997.9 724.0 L1000.0 724.7 L1002.2 731.2 L1005.8 737.5 L1009.4 740.3 L1013.0 744.7 L1015.6 750.3 L1018.3 751.5 L1021.0 758.2 L1025.1 763.9 L1029.1 766.2 L1033.2 772.0 L1037.2 771.6 L1039.0 775.6 L1040.8 781.8 L1042.6 787.8 L1046.6 791.6 L1050.7 796.8 L1054.7 796.1 L1058.8 801.3 L1062.8 801.7 L1066.9 804.9 L1070.9 810.2 L1074.9 812.1 L1077.6 817.3 L1080.3 818.6 L1083.0 822.8 L1087.1 820.6 L1091.1 820.1 L1093.1 823.7 L1095.2 827.5 L1097.2 831.9 L1099.2 836.3 L1101.0 840.3 L1102.8 847.1 L1104.6 852.5 L1107.3 860.1 L1110.0 863.3 L1115.4 864.5 L1120.8 868.6 L1126.1 868.7 L1131.1 867.2 L1136.0 871.8 L1141.0 871.4 L1144.3 869.0 L1147.7 863.3 L1151.8 865.8 L1155.8 866.0 L1158.5 862.5 L1161.2 858.7 L1163.9 855.2 L1167.9 860.2 L1172.0 863.3 L1176.0 862.0 L1180.0 855.2 L1181.8 858.3 L1183.6 862.6 L1185.4 868.7 L1189.8 868.8 L1194.1 868.3 L1198.4 863.9 L1202.7 861.8 L1207.0 860.6 L1212.4 860.8 L1217.8 855.7 L1223.2 854.9 L1228.6 855.2 L1232.7 855.1 L1236.8 859.8 L1240.9 860.0 L1245.0 863.3 L1250.4 861.4 L1255.8 863.3 L1260.3 863.7 L1264.8 864.6 L1269.3 860.6 L1272.0 865.0 L1274.6 871.4 L1278.0 876.2 L1281.4 877.5 L1284.8 883.9 L1288.1 884.8 L1291.7 889.9 L1295.3 892.3 L1298.9 898.3 L1302.5 900.9 L1306.1 904.2 L1309.7 911.8 L1314.2 915.2 L1318.7 918.1 L1323.2 922.6 L1327.7 921.2 L1332.1 923.4 L1336.6 925.3 L1342.0 925.4 L1347.4 928.0 L1351.0 927.2 L1354.6 920.1 L1358.2 919.9 L1362.7 921.5 L1367.2 916.1 L1371.7 914.5 L1376.2 916.1 L1380.7 916.0 L1385.1 917.2 L1388.7 923.1 L1392.3 926.6 L1395.9 928.0 L1399.5 931.9 L1403.1 935.0 L1406.7 938.7 L1408.5 944.1 L1410.3 949.1 L1412.1 952.2 L1416.1 954.9 L1420.2 960.6 L1424.2 965.5 L1428.3 965.7 L1432.3 968.8 L1436.4 970.5 L1440.4 973.9 L1444.4 979.2 L1448.0 983.4 L1451.6 985.8 L1455.2 987.2 L1460.6 993.2 L1466.0 992.6 L1471.4 993.8 L1476.8 989.9 L1480.4 991.7 L1484.0 995.0 L1487.6 1000.7 L1492.1 1002.6 L1496.5 1005.7 L1501.0 1011.5 L1505.5 1016.5 L1510.0 1021.2 L1514.5 1022.3 L1518.1 1027.8 L1521.7 1026.0 L1525.3 1030.4 L1528.0 1036.5 L1530.7 1037.4 L1533.4 1042.0 L1536.1 1046.5 L1540.6 1049.9 L1545.1 1047.2 L1549.5 1051.9 L1553.6 1053.1 L1557.6 1060.0 L1562.1 1065.9 L1566.6 1065.7 L1571.1 1070.8 L1575.6 1071.6 L1580.1 1074.9 L1584.6 1076.2 L1590.0 1074.7 L1595.4 1070.8 L1600.8 1066.4 L1606.1 1067.8 L1611.5 1068.1 L1616.9 1069.0 L1622.3 1070.8 L1627.7 1073.4 L1633.1 1076.2 L1636.2 1077.9 L1640.7 1077.7 L1645.2 1082.1 L1649.7 1083.3 L1654.6 1088.3 L1659.6 1086.1 L1664.5 1088.7 L1666.8 1085.3 L1669.0 1079.4 L1671.3 1077.9 L1674.6 1071.8 L1678.0 1068.5 L1680.2 1073.0 L1682.5 1073.5 L1684.7 1079.2 L1686.8 1085.6 L1688.8 1088.7 L1692.4 1088.8 L1696.0 1080.5 L1699.6 1080.6 L1703.6 1081.7 L1707.6 1076.5 L1711.7 1079.0 L1715.7 1083.3 L1718.9 1081.0 L1722.0 1076.9 L1725.2 1071.2 L1728.3 1065.4 L1731.5 1063.2 L1734.6 1057.7 L1736.4 1052.8 L1738.2 1047.9 L1740.0 1041.5 L1742.2 1035.9 L1744.5 1033.7 L1746.7 1028.0 L1747.7 1023.9 L1748.7 1018.3 L1749.8 1012.9 L1750.8 1007.8 L1751.3 1002.5 L1751.9 998.2 L1752.5 993.2 L1753.1 988.8 L1753.7 984.0 L1754.2 979.0 L1754.8 974.1 L1755.5 968.7 L1756.2 964.4 L1756.8 959.3 L1757.5 953.7 L1758.2 949.7 L1758.9 944.4 L1759.5 938.7 L1760.2 934.8 L1760.9 928.7 L1761.5 924.3 L1762.6 919.0 L1763.7 915.1 L1764.8 909.9 L1765.9 905.0 L1766.9 900.0 L1768.0 895.2 L1769.0 889.6 L1770.0 884.2 L1771.0 879.5 L1775.0 882.2 L1776.8 886.5 L1778.6 891.5 L1780.4 898.3 L1781.8 904.3 L1783.1 909.8 L1784.5 914.7 L1785.8 920.0 L1786.4 925.2 L1787.0 929.5 L1787.5 934.3 L1788.1 939.2 L1788.7 944.7 L1789.3 948.5 L1789.9 953.9 L1790.9 958.8 L1792.0 963.0 L1793.1 969.1 L1794.2 973.0 L1795.2 978.2 L1797.0 983.0 L1798.8 988.6 L1800.6 994.3 L1802.3 999.5 L1804.0 1005.3 L1805.7 1009.0 L1807.4 1014.6 L1809.6 1020.7 L1811.9 1021.7 L1814.1 1028.0 L1819.5 1032.1" stroke="#008000" stroke-dasharray="86 48"/>
<path d="M289.0 787.8 L294.0 788.7 L298.9 790.4 L303.9 795.9 L305.9 800.2 L307.9 803.9 L309.9 808.2 L312.0 814.8 L315.5 817.7 L319.1 824.9 L322.7 825.5 L327.2 831.2 L331.7 834.6 L336.2 836.3 L341.6 833.5 L347.0 834.8 L352.4 833.6 L355.1 836.0 L357.8 839.2 L360.5 842.5 L363.2 847.0 L365.9 852.5 L367.9 858.5 L369.9 862.1 L371.9 866.1 L373.9 868.7 L376.0 874.6 L378.0 876.8 L380.0 882.0 L382.0 887.5 L383.4 893.2 L384.7 898.9 L386.1 904.6 L387.4 909.1 L391.0 914.4 L394.6 911.6 L398.2 917.2 L402.2 916.6 L406.3 914.5 L410.8 913.9 L415.3 910.9 L419.8 909.1 L422.5 902.9 L425.1 900.0 L427.8 893.4 L430.5 893.5 L433.2 888.6 L435.9 882.1 L441.3 881.1 L446.7 879.4 L450.3 874.4 L453.9 875.1 L457.5 868.7 L462.9 869.2 L468.3 871.3 L473.7 868.7 L479.0 869.7 L484.4 866.0 L485.2 861.4 L486.0 856.6 L486.7 852.3 L487.5 847.4 L488.3 842.3 L489.1 837.9 L489.8 833.6 L490.9 839.2 L492.0 842.3 L493.1 847.1 L494.1 853.3 L495.2 857.9 L496.6 862.7 L497.9 868.7 L499.3 874.0 L500.6 879.4 L504.0 881.7 L507.3 889.7 L510.7 887.4 L514.1 892.9 L517.5 895.7 L520.8 897.6 L524.2 904.0 L527.6 906.4 L531.2 902.1 L534.7 900.0 L538.3 898.3 L540.1 894.8 L541.9 888.6 L543.7 885.1 L545.5 881.9 L547.3 874.3 L549.1 871.4 L552.5 864.4 L555.9 861.4 L559.2 861.0 L562.6 855.2 L567.1 853.3 L571.6 848.0 L576.1 847.1 L577.9 841.1 L579.7 835.2 L581.5 830.9 L583.5 826.0 L585.5 819.6 L587.5 817.6 L589.5 812.1 L593.1 812.1 L596.7 809.9 L600.3 804.0 L604.4 802.9 L608.4 798.6 L610.4 796.7 L612.5 788.2 L614.5 785.5 L616.5 782.4 L618.5 780.6 L620.5 775.6 L622.6 769.9 L624.6 766.2 L628.2 765.8 L631.8 759.9 L635.4 755.5 L637.0 752.3 L638.6 746.1 L640.2 741.4 L641.8 738.0 L643.5 733.9 L647.5 728.7 L651.5 728.5 L656.0 728.6 L660.5 733.5 L665.0 731.2 L669.1 734.1 L673.1 739.3 L678.5 735.9 L683.9 739.3 L688.4 739.7 L692.9 744.2 L697.4 750.1 L701.4 756.1 L705.4 758.2 L710.8 758.5 L716.2 760.9 L721.6 760.7 L727.0 763.5 L732.4 760.7 L737.8 766.9 L743.2 763.5 L748.6 764.8 L754.0 765.1 L759.3 768.9 L765.0 771.6 L769.5 768.5 L774.0 768.5 L778.5 771.6 L783.0 768.4 L787.5 771.1 L792.0 768.9 L796.4 766.0 L800.9 764.8 L805.4 767.6 L809.9 767.1 L814.4 764.9 L818.9 766.2 L825.1 769.3 L831.2 765.3 L834.6 759.3 L838.0 758.6 L843.0 756.6 L848.1 754.1 L852.6 757.2 L857.1 756.4 L858.6 751.6 L860.1 749.0 L861.5 742.9 L864.9 739.5 L867.5 743.9 L870.2 747.1 L872.8 753.0 L876.1 749.2 L879.5 743.5 L882.9 743.0 L886.3 738.7 L889.6 737.3 L894.1 737.8 L898.6 735.1 L903.1 730.5 L906.1 734.6 L909.1 735.9 L912.1 742.9 L912.6 737.7 L913.2 732.8 L913.8 727.9 L914.3 723.1 L914.9 719.0 L915.5 713.7 L917.5 707.9 L919.6 703.3 L921.6 701.3 L922.6 707.5 L923.6 712.1 L924.6 718.3 L925.6 722.7 L931.2 720.3 L936.8 719.3 L939.0 725.2 L941.3 727.6 L943.5 730.5 L947.7 729.2 L951.9 725.5 L956.2 720.4 L960.4 717.1 L964.0 710.6 L967.7 707.7 L971.3 708.7 L975.0 702.5 L979.5 703.8 L984.0 702.4 L988.4 698.0 L991.3 692.6 L994.1 689.0 L999.7 688.6 L1005.3 688.1 L1010.9 684.5 L1015.5 685.5 L1020.0 684.5 L1023.6 684.2 L1027.2 679.5 L1032.7 679.7 L1038.2 679.5 L1039.7 675.9 L1041.3 671.8 L1042.9 666.9 L1047.6 663.7 L1052.3 663.8 L1055.5 661.5 L1058.6 654.3 L1061.8 661.7 L1064.9 661.3 L1068.1 668.5 L1072.8 674.9 L1077.5 674.8 L1079.1 670.9 L1080.6 664.8 L1082.2 659.1 L1086.1 658.2 L1090.1 663.8 L1094.3 667.6 L1098.4 663.3 L1102.6 666.9 L1106.6 674.8 L1110.5 676.4 L1113.6 682.0 L1116.8 685.8 L1121.0 684.8 L1125.2 687.6 L1129.4 692.1 L1134.9 695.4 L1140.4 696.8 L1145.1 696.5 L1149.8 695.2 L1153.7 694.6 L1157.7 690.5 L1158.7 695.8 L1159.8 698.2 L1160.8 703.1 L1164.7 704.5 L1168.7 712.5 L1172.9 717.6 L1177.1 713.3 L1181.3 718.8 L1183.9 724.8 L1186.5 723.8 L1189.1 729.8 L1190.2 735.7 L1191.2 740.9 L1192.3 745.5 L1197.0 749.0 L1201.7 747.1 L1203.8 752.5 L1205.9 759.1 L1208.0 762.8 L1210.0 765.9 L1211.9 772.2 L1213.9 775.1 L1215.8 780.1 L1217.9 786.2 L1220.0 789.8 L1222.1 792.7 L1224.5 796.5 L1226.9 800.7 L1229.2 801.9 L1231.6 808.4 L1233.7 809.7 L1235.8 816.3 L1237.9 819.4 L1241.0 823.6 L1244.2 830.1 L1247.3 832.0 L1250.4 836.7 L1253.6 840.0 L1254.3 844.5 L1255.0 849.9 L1255.8 855.2 L1258.5 860.5 L1261.2 862.5 L1263.9 866.0 L1267.9 866.6 L1272.0 874.0 L1277.3 879.1 L1282.7 879.4 L1285.4 885.4 L1288.1 887.5 L1291.5 888.0 L1294.9 894.6 L1298.2 896.8 L1301.6 901.0 L1305.6 905.0 L1309.7 903.7 L1313.7 905.2 L1317.8 909.1 L1321.8 913.0 L1325.9 917.2 L1331.2 920.4 L1336.6 917.2 L1342.0 913.0 L1347.4 914.5 L1352.8 911.8 L1358.2 914.5 L1363.6 917.2 L1369.0 920.7 L1374.4 922.6 L1377.7 928.6 L1381.1 929.4 L1384.5 932.2 L1387.8 936.0 L1393.2 941.2 L1398.6 941.4 L1402.7 947.4 L1406.7 949.5 L1410.3 950.1 L1413.9 959.4 L1417.5 960.3 L1421.5 960.2 L1425.6 963.0 L1429.6 968.7 L1433.7 968.4 L1438.2 968.7 L1442.6 972.3 L1447.1 971.1 L1450.7 966.1 L1454.3 968.3 L1457.9 963.0 L1463.3 962.5 L1468.7 964.1 L1474.1 968.4 L1478.6 970.1 L1483.1 970.8 L1487.6 973.8 L1493.0 975.4 L1498.3 976.5 L1503.7 980.6 L1509.1 979.2 L1511.1 984.7 L1513.2 986.5 L1515.2 992.5 L1517.2 998.0 L1521.9 1001.0 L1526.6 1003.3 L1531.4 1007.6 L1536.1 1008.8 L1541.5 1010.0 L1546.9 1011.5 L1552.2 1011.2 L1557.6 1016.9 L1563.0 1012.4 L1568.4 1011.5 L1572.9 1014.8 L1577.4 1012.3 L1581.9 1014.2 L1585.9 1014.7 L1590.0 1011.5 L1593.6 1012.2 L1597.2 1007.0 L1600.8 1003.4 L1606.1 1006.0 L1611.5 1006.1 L1615.1 1009.6 L1618.7 1010.2 L1622.3 1014.2 L1625.9 1012.4 L1629.5 1005.0 L1633.1 1000.7 L1637.1 1002.3 L1641.2 998.0 L1644.6 1000.8 L1647.9 1008.6 L1651.3 1012.1 L1654.7 1014.2 L1658.3 1010.4 L1661.8 1004.8 L1665.4 1000.7 L1670.8 1000.9 L1676.2 1006.1 L1681.6 1008.0 L1687.0 1006.1 L1692.4 1006.5 L1697.8 1008.8 L1703.2 1011.3 L1708.6 1011.5 L1714.0 1011.6 L1719.3 1016.9 L1725.0 1019.6 L1729.1 1012.8 L1733.2 1011.9 L1736.6 1012.4 L1740.0 1020.1 L1743.4 1018.7 L1746.7 1024.0 L1749.9 1022.5 L1753.0 1015.1 L1756.2 1011.9 L1761.1 1012.4 L1766.0 1010.8 L1771.0 1011.9 L1773.3 1008.5 L1775.7 1001.6 L1778.1 999.2 L1780.4 995.7 L1783.1 1002.1 L1785.8 1001.1 L1788.5 1007.8 L1791.2 1010.5 L1792.8 1005.4 L1794.3 1000.8 L1795.9 995.4 L1797.5 990.9 L1799.1 989.6 L1800.6 983.6 L1805.1 983.2 L1809.6 980.3 L1814.1 975.5 L1819.5 971.4" stroke="#000" stroke-dasharray="12 12.6 12.7 8.4 36 4.7 41 12"/>
<path d="M289.0 945.5 L289.4 950.6 L289.7 955.7 L290.1 960.8 L290.4 965.7 L294.0 971.9 L297.6 973.7 L301.2 975.1 L306.6 975.4 L312.0 969.7 L313.3 973.5 L314.6 979.7 L316.0 986.1 L317.3 989.9 L318.2 995.3 L319.1 1000.9 L320.0 1004.5 L320.9 1010.2 L321.8 1014.9 L322.7 1020.6 L323.6 1025.7 L324.5 1029.8 L325.4 1035.8 L327.8 1030.2 L330.1 1026.5 L332.5 1025.8 L334.9 1019.6 L340.9 1020.1 L347.0 1016.9 L352.4 1015.4 L357.8 1020.8 L363.2 1019.6 L364.5 1023.3 L365.9 1029.4 L367.2 1032.7 L368.5 1038.5 L373.9 1037.0 L379.3 1042.5 L383.8 1045.5 L388.3 1041.4 L392.8 1043.8 L396.4 1037.5 L400.0 1038.0 L403.6 1030.4 L404.9 1027.0 L406.3 1020.7 L407.6 1018.3 L409.0 1012.5 L410.3 1008.4 L411.7 1003.4 L413.3 997.6 L414.9 995.2 L416.5 989.5 L418.1 985.6 L419.8 979.2 L425.1 981.9 L430.5 977.8 L435.9 979.2 L438.6 982.4 L441.3 985.3 L444.0 989.2 L446.7 995.3 L450.1 988.6 L453.4 986.5 L456.8 984.9 L460.2 980.5 L463.6 980.7 L466.9 989.2 L470.3 990.5 L473.7 995.3 L477.7 991.3 L481.7 992.2 L485.8 987.1 L489.8 984.5 L490.8 988.9 L491.9 993.9 L492.9 999.1 L493.9 1002.4 L494.9 1009.2 L495.9 1011.8 L496.9 1018.1 L497.9 1022.3 L499.5 1027.9 L501.1 1029.1 L502.8 1036.3 L504.4 1039.0 L506.0 1043.8 L510.0 1048.4 L514.1 1051.9 L519.5 1048.5 L524.9 1051.9 L528.1 1052.6 L531.3 1057.3 L534.6 1066.4 L537.8 1064.9 L541.0 1070.8 L542.4 1066.6 L543.7 1062.1 L545.1 1057.2 L546.4 1050.6 L547.8 1045.7 L549.1 1041.1 L551.8 1037.7 L554.5 1035.7 L557.2 1030.4 L560.8 1032.3 L564.4 1041.0 L568.0 1043.8 L572.3 1042.7 L576.6 1039.9 L580.9 1030.9 L585.2 1034.0 L589.5 1027.7 L591.6 1030.7 L593.6 1036.4 L595.6 1042.3 L597.6 1046.5 L601.2 1044.8 L604.8 1036.5 L608.4 1033.1 L611.1 1031.5 L613.8 1025.2 L616.5 1019.8 L619.2 1016.9 L623.2 1011.6 L627.3 1008.8 L631.3 1005.2 L635.4 1006.1 L637.4 999.6 L639.4 995.2 L641.4 992.7 L643.5 987.2 L646.1 986.1 L648.8 977.2 L651.5 972.5 L654.2 971.1 L659.6 974.5 L665.0 971.1 L667.0 966.5 L669.1 961.3 L671.1 955.8 L673.1 952.2 L675.8 948.0 L678.5 944.5 L681.2 937.8 L683.9 933.3 L685.9 928.9 L687.9 923.2 L689.9 923.2 L692.0 917.2 L694.1 910.7 L696.3 908.5 L698.4 905.8 L700.6 898.2 L702.7 895.6 L704.1 891.2 L705.4 886.7 L706.8 880.8 L708.1 876.2 L709.5 869.3 L710.8 865.1 L712.2 859.3 L713.5 855.2 L715.1 851.5 L716.8 844.8 L718.4 840.5 L720.0 837.4 L721.6 830.9 L723.0 827.0 L724.3 822.4 L725.7 816.0 L727.0 811.1 L728.3 806.9 L729.7 801.3 L730.5 796.1 L731.3 790.6 L732.2 785.6 L733.0 780.1 L733.8 775.3 L734.6 771.1 L735.5 765.9 L736.3 760.0 L737.4 755.3 L738.6 750.0 L739.7 744.6 L740.8 739.0 L742.0 734.5 L743.1 730.7 L744.3 725.9 L745.4 720.0 L746.8 714.9 L748.3 711.4 L749.7 706.7 L751.2 701.7 L752.6 696.4 L753.6 691.6 L754.7 686.7 L755.7 680.7 L756.7 676.3 L757.7 670.3 L758.8 665.6 L759.8 660.5 L761.0 656.7 L762.2 652.0 L763.4 646.4 L764.6 643.7 L765.8 638.4 L767.0 633.5 L767.8 628.5 L768.5 622.5 L769.3 618.2 L770.0 612.6 L770.8 608.1 L771.5 602.7 L772.3 597.6 L772.9 592.9 L773.6 587.5 L774.2 582.6 L774.9 576.9 L775.5 572.1 L776.2 567.1 L776.8 561.7 L777.4 557.0 L778.1 551.2 L778.7 546.7 L779.4 541.6 L780.0 536.2 L780.7 531.5 L781.3 525.7 L781.8 521.0 L782.3 515.5 L782.8 510.3 L783.4 504.8 L783.9 500.4 L784.4 495.4 L784.9 489.8 L785.5 484.6 L786.2 479.8 L786.8 474.7 L787.5 469.6 L788.1 463.7 L788.8 459.4 L789.4 453.9 L789.7 449.1 L790.0 444.2 L790.3 439.2 L790.6 434.4 L791.0 429.6 L791.3 424.7 L791.6 419.8 L791.9 414.5 L792.2 409.7 L792.5 405.0 L792.6 400.2 L792.7 395.4 L792.9 390.5 L793.0 385.8 L793.1 380.9 L793.2 376.0 L793.3 371.3 L793.4 366.4 L793.6 361.5 L793.7 356.7 L793.8 352.0 L793.9 346.9 L794.0 341.8 L794.1 336.8 L794.2 331.7 L794.2 326.7 L794.3 321.7 L794.4 316.7 L794.5 311.6 L794.6 306.5 L794.7 301.5 L794.8 296.3 L794.9 291.4 L795.0 286.3 L795.1 281.2 L795.1 276.1 L795.2 271.2 L795.3 266.1 L795.4 261.0 L795.5 256.0 L795.6 251.0 L795.7 245.8 L795.8 240.8 L795.9 235.7 L796.0 230.7 L796.1 225.7 L796.2 220.6 L796.3 215.4 L796.4 210.5 L796.5 205.4 L796.6 200.2 L796.7 195.1 L796.8 190.2 L796.9 185.1 L797.0 180.0 L797.2 175.1 L797.4 170.0 L797.6 164.8 L797.8 159.6 L798.0 154.7 L798.1 149.3 L798.3 144.3 L798.5 139.4 L798.7 134.3 L798.9 129.0 L799.1 124.1 L799.3 119.0 L800.7 119.0 L800.9 124.3 L801.1 129.1 L801.3 134.2 L801.5 139.2 L801.7 144.3 L802.0 149.7 L802.2 154.5 L802.4 159.9 L802.6 164.9 L802.8 169.9 L803.0 174.8 L803.2 180.0 L803.3 185.2 L803.4 190.1 L803.6 195.2 L803.7 200.2 L803.8 205.5 L803.9 210.4 L804.0 215.4 L804.2 220.5 L804.3 225.5 L804.4 230.7 L804.5 235.7 L804.6 240.7 L804.8 245.9 L804.9 251.0 L805.0 256.0 L805.1 261.0 L805.2 266.1 L805.2 271.1 L805.3 276.3 L805.4 281.3 L805.5 286.3 L805.6 291.3 L805.6 296.4 L805.7 301.6 L805.8 306.5 L805.9 311.6 L805.9 316.6 L806.0 321.7 L806.1 326.8 L806.2 331.8 L806.3 336.8 L806.3 341.9 L806.4 346.9 L806.5 352.0 L806.7 356.8 L806.9 361.5 L807.0 366.3 L807.2 371.2 L807.4 376.0 L807.6 380.7 L807.8 385.7 L807.9 390.4 L808.1 395.0 L808.3 400.0 L808.5 404.8 L808.6 409.8 L808.8 414.8 L808.9 419.7 L809.1 424.5 L809.2 429.2 L809.4 434.4 L809.5 439.2 L809.7 444.1 L809.8 449.1 L810.0 453.9 L810.2 458.9 L810.5 463.7 L810.7 468.8 L811.0 473.4 L811.2 478.3 L811.5 483.5 L811.7 488.0 L812.0 493.0 L812.2 498.2 L812.5 502.7 L812.7 507.8 L813.3 513.1 L813.8 517.8 L814.4 522.4 L815.0 527.1 L815.6 532.6 L816.1 537.7 L816.7 541.7 L817.3 547.0 L817.9 552.0 L818.4 556.8 L819.0 561.7 L819.8 566.6 L820.5 571.4 L821.3 577.2 L822.1 582.7 L822.9 586.7 L823.6 592.0 L824.4 597.6 L825.6 603.0 L826.8 607.4 L828.0 611.5 L829.2 614.2 L830.4 620.6 L831.6 624.5 L832.5 630.0 L833.4 634.5 L834.3 638.4 L835.2 641.6 L836.1 647.7 L837.0 651.5 L839.1 655.5 L841.2 662.3 L843.4 668.7 L845.5 672.0 L848.5 677.3 L851.4 680.0 L854.2 683.8 L857.0 691.0 L858.9 693.9 L860.8 700.6 L862.7 702.5 L864.9 706.8 L867.0 713.7 L867.8 718.3 L868.6 722.4 L869.4 727.0 L871.7 728.5 L874.0 734.0 L879.5 736.0 L881.2 740.1 L883.0 743.0 L884.5 746.9 L885.9 752.3 L887.4 758.6 L888.5 762.5 L889.7 765.9 L890.9 770.1 L892.0 775.5 L894.2 779.6 L896.4 784.3 L898.6 786.7 L901.8 792.1 L905.0 792.3 L907.5 786.9 L910.0 786.7 L912.8 789.0 L915.5 792.3 L917.1 797.3 L918.8 803.5 L919.5 809.3 L920.3 814.8 L921.0 820.4 L923.9 826.3 L926.7 826.0 L932.3 829.4 L935.1 832.5 L938.0 837.2 L940.8 840.7 L943.5 848.4 L945.3 853.1 L947.2 854.3 L949.0 859.7 L951.9 863.4 L954.8 865.3 L959.2 867.0 L963.7 868.7 L967.7 872.7 L971.6 871.0 L977.2 872.4 L982.8 873.0 L988.4 872.8 L994.0 871.0 L999.7 875.4 L1004.2 871.5 L1008.7 871.0 L1014.4 870.8 L1020.0 869.8 L1023.2 873.2 L1026.4 879.4 L1030.5 877.2 L1034.5 871.4 L1039.9 870.1 L1045.3 868.7 L1050.7 864.7 L1056.1 866.0 L1058.8 860.0 L1061.5 856.3 L1064.2 852.5 L1069.5 855.5 L1074.9 855.2 L1080.3 852.5 L1085.7 855.8 L1091.1 853.8 L1093.8 858.8 L1096.5 859.5 L1099.2 866.0 L1102.8 869.4 L1106.4 867.6 L1110.0 872.7 L1115.4 870.7 L1120.8 874.0 L1122.8 878.5 L1124.8 880.9 L1126.8 887.9 L1128.8 890.2 L1131.5 893.7 L1134.2 896.3 L1136.9 901.0 L1139.6 906.8 L1142.3 909.1 L1145.9 903.1 L1149.5 905.3 L1153.1 901.0 L1158.5 896.5 L1163.9 898.3 L1166.6 893.2 L1169.3 892.9 L1173.8 897.0 L1178.3 896.0 L1182.7 895.6 L1184.5 899.0 L1186.3 903.1 L1188.1 909.1 L1190.2 915.8 L1192.2 919.2 L1194.2 924.6 L1196.2 928.0 L1198.0 932.1 L1199.8 939.1 L1201.6 944.1 L1205.2 945.8 L1208.8 947.7 L1212.4 952.2 L1214.2 956.0 L1216.0 961.6 L1217.8 965.7 L1221.4 968.2 L1225.0 972.1 L1228.6 976.5 L1232.2 978.6 L1235.7 987.6 L1239.3 989.9 L1240.8 995.7 L1242.2 1001.5 L1243.6 1005.9 L1245.0 1011.5 L1249.0 1015.3 L1253.1 1014.2 L1258.5 1015.7 L1263.9 1016.9 L1266.6 1021.1 L1269.3 1024.5 L1272.0 1027.7 L1274.0 1032.8 L1276.0 1035.3 L1278.0 1037.9 L1280.0 1043.8 L1285.4 1043.3 L1290.8 1049.2 L1294.9 1051.2 L1298.9 1057.3 L1300.7 1060.0 L1302.5 1067.8 L1304.3 1070.8 L1308.8 1072.5 L1313.3 1076.2 L1317.8 1076.2 L1321.8 1074.0 L1325.9 1078.9 L1329.9 1080.0 L1333.9 1081.6 L1338.4 1087.0 L1342.9 1087.8 L1347.4 1089.7 L1351.0 1086.5 L1354.6 1084.0 L1358.2 1081.6 L1362.2 1082.8 L1366.3 1089.7 L1369.0 1091.1 L1371.7 1094.7 L1374.4 1100.4 L1378.4 1102.3 L1382.5 1105.8 L1386.5 1109.1 L1390.5 1113.9 L1395.9 1117.9 L1401.3 1116.6 L1402.7 1120.3 L1404.0 1125.3 L1405.4 1130.1 L1406.7 1135.5 L1412.1 1132.8 L1415.7 1127.7 L1419.3 1125.9 L1422.9 1124.7 L1428.3 1122.8 L1433.7 1124.7 L1439.0 1122.8 L1444.4 1117.8 L1449.8 1119.3 L1453.4 1117.6 L1457.0 1109.5 L1460.6 1105.8 L1466.0 1110.2 L1471.4 1108.5 L1476.8 1107.1 L1482.2 1103.1 L1487.6 1103.0 L1493.0 1100.4 L1498.3 1098.9 L1503.7 1097.7 L1509.1 1099.5 L1514.5 1095.0 L1519.0 1089.7 L1523.5 1090.8 L1528.0 1087.0 L1532.0 1084.2 L1536.1 1084.3 L1537.9 1080.5 L1539.7 1076.2 L1541.5 1070.8 L1542.8 1065.1 L1544.2 1060.5 L1545.5 1055.3 L1546.9 1051.9 L1547.9 1046.0 L1549.0 1040.3 L1550.1 1035.6 L1551.2 1031.3 L1552.2 1025.0 L1552.8 1020.0 L1553.3 1015.1 L1553.9 1010.4 L1554.4 1005.3 L1554.9 1001.0 L1555.5 996.1 L1556.0 990.6 L1556.6 985.9 L1557.1 981.5 L1557.6 976.5 L1557.9 971.8 L1558.1 966.7 L1558.4 961.7 L1558.6 957.1 L1558.9 951.7 L1559.1 946.8 L1559.3 942.3 L1559.6 937.2 L1559.8 932.1 L1560.1 927.5 L1560.3 922.6 L1560.6 917.9 L1560.8 912.8 L1561.1 907.8 L1561.3 902.7 L1561.6 897.8 L1561.8 893.4 L1562.0 888.3 L1562.3 883.6 L1562.5 878.2 L1562.8 873.4 L1563.0 868.7 L1563.3 863.5 L1563.6 858.9 L1563.8 853.8 L1564.1 849.1 L1564.4 844.3 L1564.6 839.4 L1564.9 834.4 L1565.2 829.6 L1565.5 825.3 L1565.7 820.1 L1566.8 814.6 L1567.9 810.5 L1569.0 805.4 L1570.0 800.8 L1571.1 795.9 L1572.5 799.4 L1573.8 804.8 L1575.2 808.9 L1576.5 814.8 L1576.7 819.7 L1577.0 824.8 L1577.2 829.5 L1577.5 834.5 L1577.7 839.1 L1578.0 843.9 L1578.2 849.1 L1578.5 854.0 L1578.7 858.9 L1579.0 863.7 L1579.2 868.7 L1579.4 873.6 L1579.7 878.6 L1579.9 883.6 L1580.2 888.2 L1580.4 893.1 L1580.7 898.2 L1580.9 902.8 L1581.2 907.7 L1581.4 912.7 L1581.6 917.4 L1581.9 922.6 L1582.2 927.8 L1582.6 932.9 L1582.9 937.6 L1583.2 942.5 L1583.6 947.5 L1583.9 952.7 L1584.2 957.6 L1584.6 963.0 L1584.9 968.0 L1585.3 973.1 L1585.6 978.0 L1585.9 982.9 L1586.3 988.4 L1586.6 993.0 L1586.9 998.2 L1587.3 1003.4 L1588.1 1008.1 L1588.8 1013.2 L1589.6 1017.8 L1590.4 1023.3 L1591.1 1028.1 L1591.9 1033.8 L1592.7 1038.5 L1594.0 1043.3 L1595.4 1049.0 L1596.7 1053.0 L1598.1 1057.3 L1600.8 1063.4 L1603.5 1067.1 L1606.1 1071.2 L1608.8 1076.2 L1611.5 1082.4 L1614.2 1086.0 L1616.9 1089.7 L1620.5 1096.4 L1624.1 1098.4 L1627.7 1100.4 L1630.4 1105.3 L1633.1 1106.2 L1635.8 1111.2 L1639.8 1116.1 L1643.9 1116.6 L1648.4 1116.7 L1652.9 1115.8 L1657.4 1119.3 L1662.7 1117.6 L1668.1 1122.0 L1670.8 1125.8 L1673.5 1132.8 L1677.6 1133.8 L1681.6 1138.2 L1685.7 1143.4 L1689.7 1146.3 L1692.4 1148.5 L1695.1 1150.7 L1697.8 1157.0 L1703.2 1160.0 L1705.6 1165.6 L1708.0 1168.6 L1710.4 1170.0 L1712.9 1174.3 L1715.3 1178.9 L1717.7 1184.2 L1720.2 1191.0 L1722.6 1195.7 L1725.0 1197.5 L1731.9 1198.2 L1735.9 1200.9 L1739.1 1198.5 L1742.2 1192.7 L1745.4 1191.4 L1748.1 1195.8 L1750.8 1200.9 L1754.1 1202.6 L1757.5 1206.3 L1760.9 1201.7 L1764.2 1199.5 L1767.6 1201.3 L1771.0 1208.9 L1775.0 1208.2 L1779.1 1206.3 L1783.1 1205.8 L1787.2 1200.9 L1788.5 1206.8 L1789.9 1210.6 L1791.2 1217.0 L1795.2 1217.0 L1799.3 1214.6 L1803.3 1211.6 L1807.4 1208.7 L1811.4 1210.3 L1815.5 1213.8 L1819.5 1214.3" stroke="#ff0000"/>
</g>
<path d="M285.50 1545V1509M285.50 25.75V61.75M336.75 1545V1516.5M336.75 25.75V54.25M388.00 1545V1516.5M388.00 25.75V54.25M439.25 1545V1516.5M439.25 25.75V54.25M490.50 1545V1516.5M490.50 25.75V54.25M541.75 1545V1509M541.75 25.75V61.75M593.00 1545V1516.5M593.00 25.75V54.25M644.25 1545V1516.5M644.25 25.75V54.25M695.50 1545V1516.5M695.50 25.75V54.25M746.75 1545V1516.5M746.75 25.75V54.25M798.00 1545V1509M798.00 25.75V61.75M849.25 1545V1516.5M849.25 25.75V54.25M900.50 1545V1516.5M900.50 25.75V54.25M951.75 1545V1516.5M951.75 25.75V54.25M1003.00 1545V1516.5M1003.00 25.75V54.25M1054.25 1545V1509M1054.25 25.75V61.75M1105.50 1545V1516.5M1105.50 25.75V54.25M1156.75 1545V1516.5M1156.75 25.75V54.25M1208.00 1545V1516.5M1208.00 25.75V54.25M1259.25 1545V1516.5M1259.25 25.75V54.25M1310.50 1545V1509M1310.50 25.75V61.75M1361.75 1545V1516.5M1361.75 25.75V54.25M1413.00 1545V1516.5M1413.00 25.75V54.25M1464.25 1545V1516.5M1464.25 25.75V54.25M1515.50 1545V1516.5M1515.50 25.75V54.25M1566.75 1545V1509M1566.75 25.75V61.75M1618.00 1545V1516.5M1618.00 25.75V54.25M1669.25 1545V1516.5M1669.25 25.75V54.25M1720.50 1545V1516.5M1720.50 25.75V54.25M1771.75 1545V1516.5M1771.75 25.75V54.25M1823.00 1545V1509M1823.00 25.75V61.75M285.5 1545.00H321.5M1823 1545.00H1787M285.5 1500.32H314.0M1823 1500.32H1794.5M285.5 1455.63H321.5M1823 1455.63H1787M285.5 1410.95H314.0M1823 1410.95H1794.5M285.5 1366.26H321.5M1823 1366.26H1787M285.5 1321.58H314.0M1823 1321.58H1794.5M285.5 1276.90H321.5M1823 1276.90H1787M285.5 1232.21H314.0M1823 1232.21H1794.5M285.5 1187.53H321.5M1823 1187.53H1787M285.5 1142.85H314.0M1823 1142.85H1794.5M285.5 1098.16H321.5M1823 1098.16H1787M285.5 1053.48H314.0M1823 1053.48H1794.5M285.5 1008.79H321.5M1823 1008.79H1787M285.5 964.11H314.0M1823 964.11H1794.5M285.5 919.43H321.5M1823 919.43H1787M285.5 874.74H314.0M1823 874.74H1794.5M285.5 830.06H321.5M1823 830.06H1787M285.5 785.38H314.0M1823 785.38H1794.5M285.5 740.69H321.5M1823 740.69H1787M285.5 696.01H314.0M1823 696.01H1794.5M285.5 651.32H321.5M1823 651.32H1787M285.5 606.64H314.0M1823 606.64H1794.5M285.5 561.96H321.5M1823 561.96H1787M285.5 517.27H314.0M1823 517.27H1794.5M285.5 472.59H321.5M1823 472.59H1787M285.5 427.90H314.0M1823 427.90H1794.5M285.5 383.22H321.5M1823 383.22H1787M285.5 338.54H314.0M1823 338.54H1794.5M285.5 293.85H321.5M1823 293.85H1787M285.5 249.17H314.0M1823 249.17H1794.5M285.5 204.49H321.5M1823 204.49H1787M285.5 159.80H314.0M1823 159.80H1794.5M285.5 115.12H321.5M1823 115.12H1787M285.5 70.43H314.0M1823 70.43H1794.5M285.5 25.75H321.5M1823 25.75H1787" stroke="#000" stroke-width="6" fill="none"/>
<rect x="285.5" y="25.75" width="1537.5" height="1519.25" fill="none" stroke="#000" stroke-width="8"/>
<g font-family="Liberation Serif, serif" font-weight="bold" font-size="84" fill="#000">
<text x="233.5" y="1562.4" text-anchor="end">10</text>
<text x="233.5" y="1383.7" text-anchor="end">20</text>
<text x="233.5" y="1204.9" text-anchor="end">30</text>
<text x="233.5" y="1026.2" text-anchor="end">40</text>
<text x="233.5" y="847.5" text-anchor="end">50</text>
<text x="233.5" y="668.7" text-anchor="end">60</text>
<text x="233.5" y="490.0" text-anchor="end">70</text>
<text x="233.5" y="311.3" text-anchor="end">80</text>
<text x="233.5" y="132.5" text-anchor="end">90</text>
<text x="283.5" y="1646" text-anchor="middle">500</text>
<text x="539.8" y="1646" text-anchor="middle">1000</text>
<text x="796.0" y="1646" text-anchor="middle">1500</text>
<text x="1052.2" y="1646" text-anchor="middle">2000</text>
<text x="1308.5" y="1646" text-anchor="middle">2500</text>
<text x="1564.8" y="1646" text-anchor="middle">3000</text>
<text x="1821.0" y="1646" text-anchor="middle">3500</text>
</g>
<g font-family="Liberation Serif, serif" font-weight="bold" font-size="100" fill="#000">
<text transform="translate(1057.1 1739.4) scale(0.9916 1)" text-anchor="middle">Frequency [Hz]</text>
<text transform="translate(106 787.2) rotate(-90)" text-anchor="middle" font-size="102">SPL [dB]</text>
</g>
<rect x="1143" y="98" width="616" height="485" fill="#fff" stroke="#000" stroke-width="4"/>
<g stroke-width="8" fill="none">
<path d="M1204 160.9H1229.6M1237.8 160.9H1312" stroke="#0000dd"/>
<path d="M1204 249.2H1245.8M1270.2 249.2H1312" stroke="#000"/>
<path d="M1172 337.5H1320" stroke="#ff0000"/>
<path d="M1171.7 426.9H1183.9M1229.4 426.9H1316" stroke="#008000"/>
<path d="M1183.9 515H1196.1M1208.7 515H1221.4M1229.8 515H1265.9M1270.6 515H1312" stroke="#000"/>
</g>
<g font-family="Liberation Serif, serif" font-size="75" fill="#000">
<text transform="translate(1334 190.5) scale(0.986 1.07)"><tspan font-style="italic">U</tspan><tspan font-size="47">0</tspan> = 15 m/s</text>
<text transform="translate(1334 279.0) scale(0.986 1.07)"><tspan font-style="italic">U</tspan><tspan font-size="47">0</tspan> = 25 m/s</text>
<text transform="translate(1334 367.5) scale(0.986 1.07)"><tspan font-style="italic">U</tspan><tspan font-size="47">0</tspan> = 30 m/s</text>
<text transform="translate(1334 456.0) scale(0.986 1.07)"><tspan font-style="italic">U</tspan><tspan font-size="47">0</tspan> = 35 m/s</text>
<text transform="translate(1334 544.5) scale(0.986 1.07)"><tspan font-style="italic">U</tspan><tspan font-size="47">0</tspan> = 45 m/s</text>
</g>
</svg>
</body></html>
